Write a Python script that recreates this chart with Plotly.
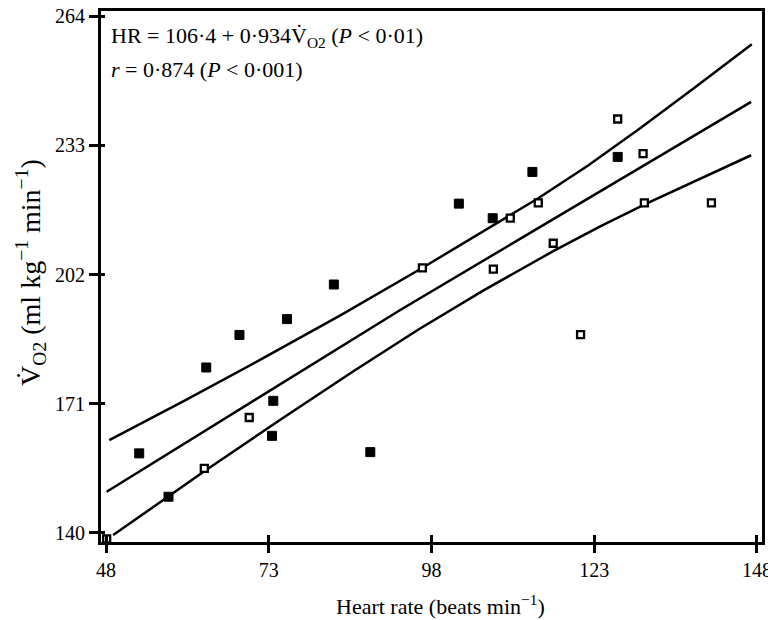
import plotly.graph_objects as go

# Data
hr_filled = [53.1, 57.6, 63.4, 68.5, 73.5, 73.7, 75.8, 83.0, 88.6, 102.2, 107.4, 113.5, 126.6]
vo2_filled = [159.1, 148.7, 179.7, 187.5, 163.3, 171.7, 191.3, 199.6, 159.4, 219.0, 215.5, 226.6, 230.2]

hr_open = [48.1, 63.1, 70.0, 96.6, 110.1, 107.5, 114.4, 116.7, 120.9, 126.6, 130.5, 130.7, 141.0]
vo2_open = [138.6, 155.5, 167.7, 203.6, 215.5, 203.3, 219.2, 209.5, 187.6, 239.3, 231.0, 219.2, 219.2]

reg_hr = [48.1, 93.2, 147.1]
reg_vo2 = [149.9, 193.5, 243.4]

upper_hr = [48.5, 60.0, 72.0, 84.0, 96.5, 106.0, 114.4, 122.0, 130.0, 138.5, 147.2]
upper_vo2 = [162.3, 171.7, 181.8, 192.2, 203.5, 212.4, 220.3, 228.1, 237.0, 246.9, 257.2]

lower_hr = [49.1, 57.6, 63.1, 75.0, 86.0, 96.0, 106.0, 116.7, 124.0, 131.0, 139.0, 147.1]
lower_vo2 = [139.5, 148.7, 154.8, 167.4, 178.8, 188.8, 198.2, 207.6, 213.6, 219.0, 224.8, 230.6]

x_ticks = [48, 73, 98, 123, 148]
y_ticks = [140, 171, 202, 233, 264]

x_range = [47.23, 148.77]
y_range = [137.84, 265.2]

FONT = "Liberation Serif, Times New Roman, serif"

fig = go.Figure()

for xs, ys in [(reg_hr, reg_vo2), (upper_hr, upper_vo2), (lower_hr, lower_vo2)]:
    fig.add_trace(go.Scatter(x=xs, y=ys, mode="lines",
                             line=dict(color="black", width=2.5),
                             showlegend=False, hoverinfo="skip"))

fig.add_trace(go.Scatter(x=hr_filled, y=vo2_filled, mode="markers",
                         marker=dict(symbol="square", size=9, color="black",
                                     line=dict(color="black", width=1)),
                         showlegend=False, cliponaxis=False))
fig.add_trace(go.Scatter(x=hr_open, y=vo2_open, mode="markers",
                         marker=dict(symbol="square", size=7, color="white",
                                     line=dict(color="black", width=2.3)),
                         showlegend=False, cliponaxis=False))

# invisible trace to activate overlay axes (for crossing tick marks)
fig.add_trace(go.Scatter(x=[x_range[0]], y=[y_range[0]], xaxis="x2", yaxis="y2",
                         mode="markers", marker=dict(opacity=0),
                         showlegend=False, hoverinfo="skip"))

fig.add_annotation(
    x=0.0121, y=0.951, xref="paper", yref="paper", xanchor="left", yanchor="middle",
    align="left", showarrow=False,
    text="HR = 106·4 + 0·934V̇<sub>O2</sub> (<i>P</i> < 0·01)",
    font=dict(family=FONT, size=22, color="black"),
)
fig.add_annotation(
    x=0.0121, y=0.889, xref="paper", yref="paper", xanchor="left", yanchor="middle",
    align="left", showarrow=False,
    text="<i>r</i> = 0·874 (<i>P</i> < 0·001)",
    font=dict(family=FONT, size=22, color="black"),
)
# axis titles
fig.add_annotation(
    x=0.513, y=-0.1186, xref="paper", yref="paper", xanchor="center", yanchor="middle",
    showarrow=False, text="Heart rate (beats min<sup>−1</sup>)",
    font=dict(family=FONT, size=22, color="black"),
)
fig.add_annotation(
    x=-0.106, y=0.5085, xref="paper", yref="paper", xanchor="center", yanchor="middle",
    showarrow=False, textangle=-90,
    text="V̇<sub>O2</sub> (ml kg<sup>−1</sup> min<sup>−1</sup>)",
    font=dict(family=FONT, size=28, color="black"),
)

fig.update_layout(
    width=768, height=620,
    margin=dict(l=101, r=6, t=11, b=78, autoexpand=False),
    paper_bgcolor="white", plot_bgcolor="white",
    font=dict(family=FONT, size=20, color="black"),
    xaxis=dict(range=x_range, tickvals=x_ticks, ticktext=[str(v) for v in x_ticks],
               ticks="outside", ticklen=8, tickwidth=2.5, tickcolor="black",
               showline=True, linecolor="black", linewidth=3, mirror=True,
               showgrid=False, zeroline=False, automargin=False,
               ticklabeloverflow="allow",
               tickfont=dict(family=FONT, size=20)),
    yaxis=dict(range=y_range, tickvals=y_ticks, ticktext=[str(v) for v in y_ticks],
               ticks="outside", ticklen=9, tickwidth=2.5, tickcolor="black",
               showline=True, linecolor="black", linewidth=3, mirror=True,
               showgrid=False, zeroline=False, automargin=False,
               ticklabeloverflow="allow",
               tickfont=dict(family=FONT, size=20)),
    xaxis2=dict(range=x_range, tickvals=x_ticks, overlaying="x", anchor="y2", side="bottom",
                ticks="inside", ticklen=7, tickwidth=2.5, tickcolor="black",
                showticklabels=False, showline=False, showgrid=False, zeroline=False,
                automargin=False),
    yaxis2=dict(range=y_range, tickvals=y_ticks, overlaying="y", anchor="x2", side="left",
                ticks="inside", ticklen=4, tickwidth=2.5, tickcolor="black",
                showticklabels=False, showline=False, showgrid=False, zeroline=False,
                automargin=False),
)

# remove the default page margin so the 768x620 figure fills the window exactly
fig.write_html("out.html", config={"displayModeBar": False},
               post_script="document.body.style.margin='0px';")
